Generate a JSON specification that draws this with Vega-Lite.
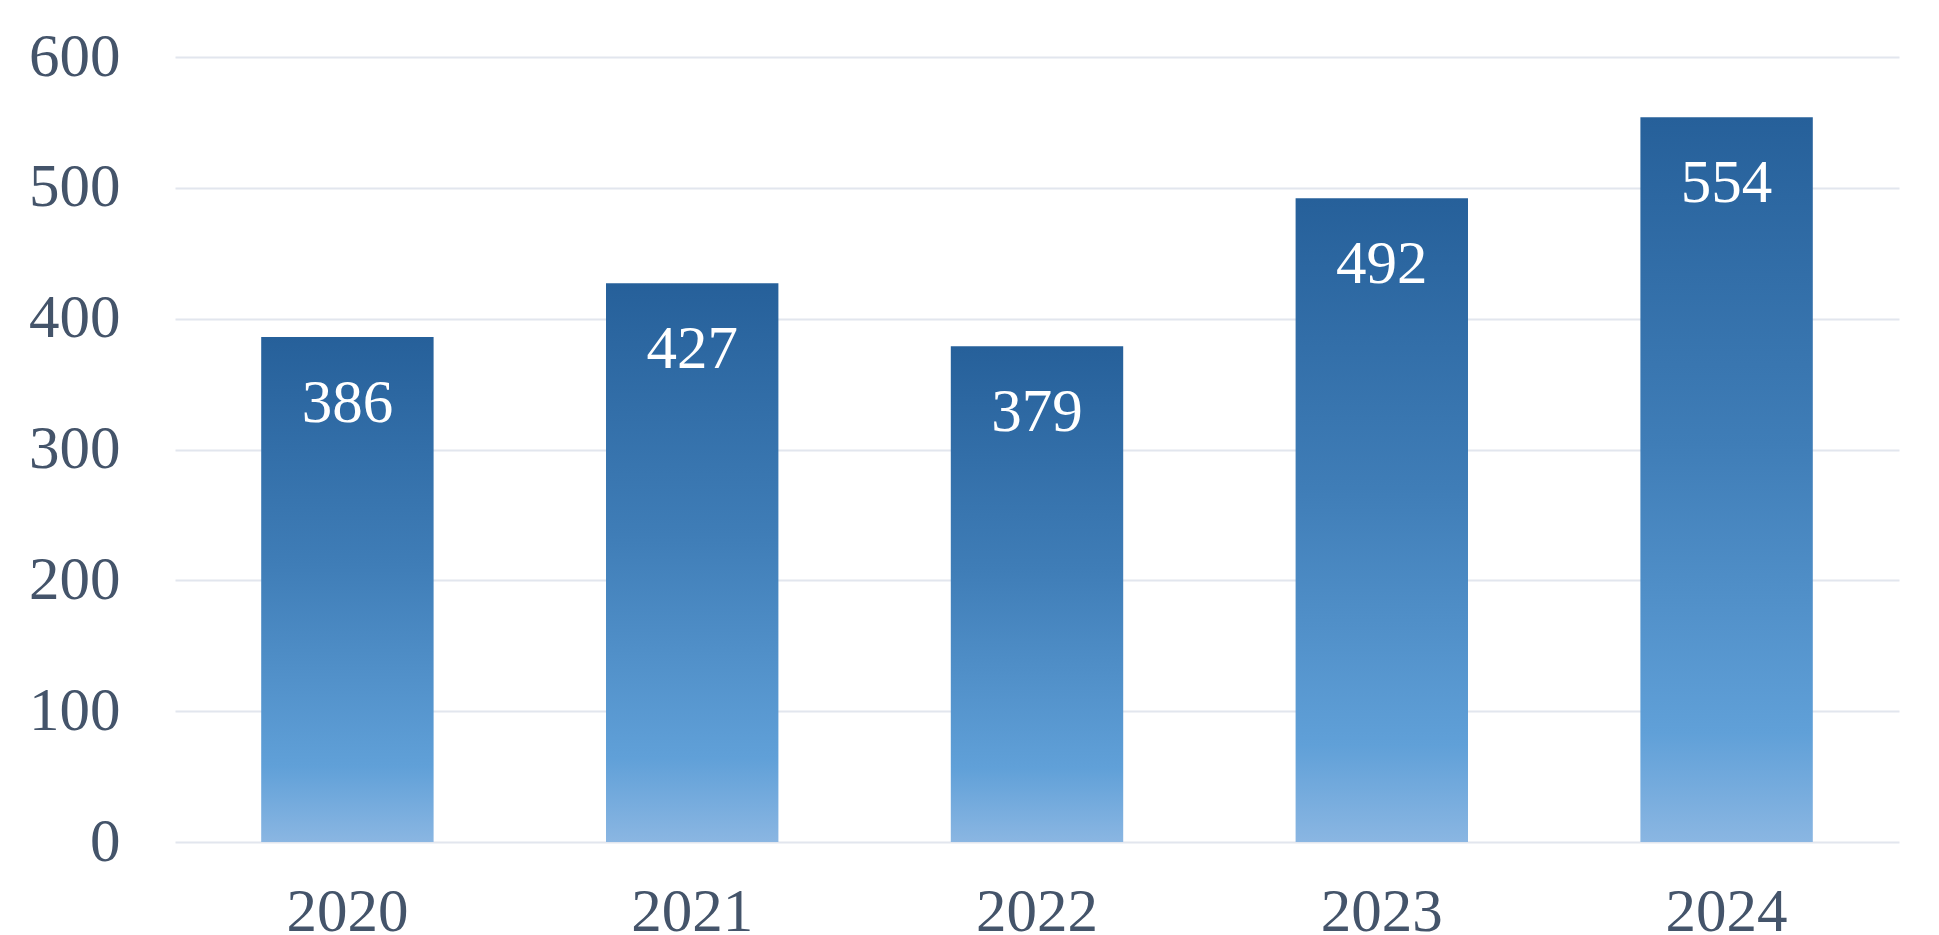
{
  "$schema": "https://vega.github.io/schema/vega-lite/v6.json",
  "autosize": "none",
  "width": 1724,
  "height": 785,
  "padding": {"left": 175, "top": 57, "right": 40, "bottom": 93},
  "background": "#ffffff",
  "config": {
    "view": {"stroke": null},
    "font": "Liberation Serif"
  },
  "data": {
    "values": [
      {"year": "2020", "value": 386},
      {"year": "2021", "value": 427},
      {"year": "2022", "value": 379},
      {"year": "2023", "value": 492},
      {"year": "2024", "value": 554}
    ]
  },
  "encoding": {
    "x": {
      "field": "year",
      "type": "nominal",
      "scale": {"paddingInner": 0.5, "paddingOuter": 0.25},
      "axis": {
        "title": null,
        "labelAngle": 0,
        "domain": false,
        "ticks": false,
        "labelFont": "Liberation Serif",
        "labelFontSize": 61,
        "labelColor": "#44546a",
        "labelPadding": 40
      }
    },
    "y": {
      "field": "value",
      "type": "quantitative",
      "scale": {"domain": [0, 600]},
      "axis": {
        "title": null,
        "values": [0, 100, 200, 300, 400, 500, 600],
        "domain": false,
        "ticks": false,
        "grid": true,
        "gridColor": "#e2e6ee",
        "gridWidth": 2,
        "labelFont": "Liberation Serif",
        "labelFontSize": 61,
        "labelColor": "#44546a",
        "labelPadding": 55
      }
    }
  },
  "layer": [
    {
      "mark": {
        "type": "bar",
        "color": {
          "gradient": "linear",
          "x1": 0, "y1": 0, "x2": 0, "y2": 1,
          "stops": [
            {"offset": 0, "color": "#26609a"},
            {"offset": 0.45, "color": "#3f7db7"},
            {"offset": 0.85, "color": "#60a0d8"},
            {"offset": 1, "color": "#8ab6e2"}
          ]
        }
      }
    },
    {
      "mark": {
        "type": "text",
        "color": "#ffffff",
        "font": "Liberation Serif",
        "fontSize": 61,
        "baseline": "alphabetic",
        "dy": 85
      },
      "encoding": {"text": {"field": "value", "type": "quantitative"}}
    }
  ]
}
